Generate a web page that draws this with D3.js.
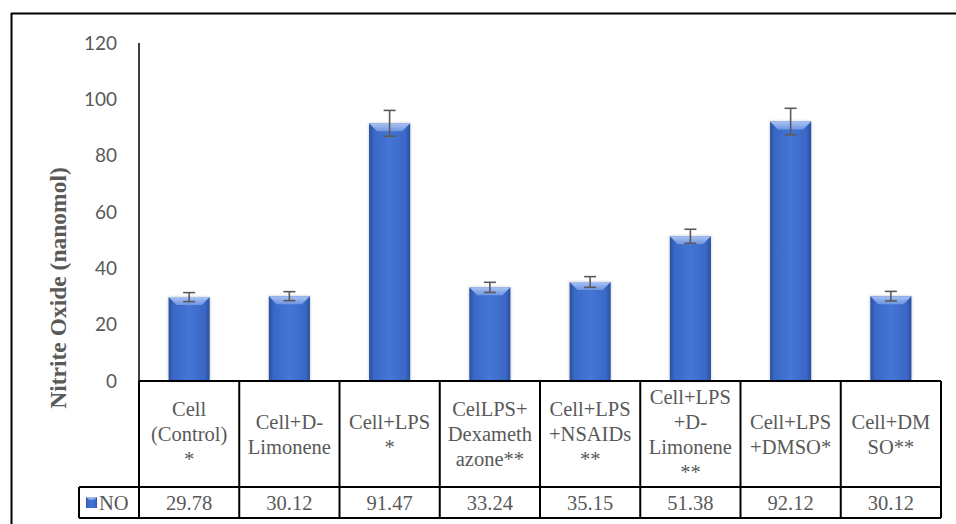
<!DOCTYPE html>
<html><head><meta charset="utf-8">
<script src="https://cdn.jsdelivr.net/npm/d3@7"></script>
<style>html,body{margin:0;padding:0;background:#fff;}svg{display:block;}
.serif{font-family:"Liberation Serif","Times New Roman","DejaVu Serif",serif;}
.sans{font-family:Lato,"Open Sans",sans-serif;}
</style>
</head><body>
<svg id="chart" width="956" height="524"></svg>
<script>
const categories = [
  ["Cell", "(Control)", "*"],
  ["Cell+D-", "Limonene"],
  ["Cell+LPS", "*"],
  ["CelLPS+", "Dexameth", "azone**"],
  ["Cell+LPS", "+NSAIDs", "**"],
  ["Cell+LPS", "+D-", "Limonene", "**"],
  ["Cell+LPS", "+DMSO*"],
  ["Cell+DM", "SO**"]
];
const seriesName = "NO";
const values = [29.78, 30.12, 91.47, 33.24, 35.15, 51.38, 92.12, 30.12];
const valueLabels = ["29.78", "30.12", "91.47", "33.24", "35.15", "51.38", "92.12", "30.12"];
const errors = [1.6, 1.6, 4.6, 1.8, 1.9, 2.5, 4.7, 1.7];
const yTicks = [0, 20, 40, 60, 80, 100, 120];
const yTitle = "Nitrite Oxide (nanomol)";

(function () {
const svg = d3.select("#chart");
const left = 139, right = 941, plotTop = 43, base = 381;
const catRowBottom = 487, valRowBottom = 518, legendLeft = 79;

const ids = categories.map((c, i) => "c" + i);
const x = d3.scaleBand().domain(ids).range([left, right]).paddingInner(0.59).paddingOuter(0.295);
const y = d3.scaleLinear().domain([0, 120]).range([base, plotTop]);

const defs = svg.append("defs");
const g1 = defs.append("linearGradient").attr("id", "barGrad").attr("x1", 0).attr("x2", 1).attr("y1", 0).attr("y2", 0);
[[0, "#2a4f9e"], [0.12, "#3a68c6"], [0.5, "#4475d6"], [0.88, "#3a68c6"], [1, "#2a4f9e"]]
  .forEach(s => g1.append("stop").attr("offset", s[0]).attr("stop-color", s[1]));
const g2 = defs.append("linearGradient").attr("id", "bevelGrad").attr("x1", 0).attr("x2", 0).attr("y1", 0).attr("y2", 1);
[[0, "#a9c2f3"], [1, "#6e95e2"]].forEach(s => g2.append("stop").attr("offset", s[0]).attr("stop-color", s[1]));
const flt = defs.append("filter").attr("id", "shadow").attr("x", "-20%").attr("y", "-20%").attr("width", "140%").attr("height", "140%");
flt.append("feDropShadow").attr("dx", 0).attr("dy", 0).attr("stdDeviation", 1.5).attr("flood-color", "#000").attr("flood-opacity", 0.25);

// outer frame (top and left)
svg.append("line").attr("x1", 11).attr("x2", 956).attr("y1", 13.5).attr("y2", 13.5).attr("stroke", "#000").attr("stroke-width", 2);
svg.append("line").attr("x1", 11.5).attr("x2", 11.5).attr("y1", 13).attr("y2", 524).attr("stroke", "#000").attr("stroke-width", 2);

// y axis
const yAxis = d3.axisLeft(y).tickValues(yTicks).tickSize(0).tickPadding(22);
const ya = svg.append("g").attr("transform", `translate(${left},0)`).call(yAxis);
ya.select(".domain").remove();
ya.selectAll("text").attr("class", "sans").attr("font-family", null).style("font-size", "19px").attr("fill", "#595959");
svg.append("line").attr("x1", left).attr("x2", left).attr("y1", plotTop).attr("y2", catRowBottom).attr("stroke", "#000").attr("stroke-width", 1.5);

// y title
svg.append("text").attr("class", "serif").attr("transform", `translate(66,288) rotate(-90)`).attr("text-anchor", "middle")
  .style("font-weight", "bold").style("font-size", "23.5px").attr("fill", "#595959").text(yTitle);

// bars
const bars = svg.append("g").selectAll("g").data(values).join("g");
const bw = x.bandwidth(), bev = 8;
bars.append("rect").attr("x", (d, i) => x(ids[i])).attr("y", d => y(d)).attr("width", bw).attr("height", d => base - y(d))
  .attr("fill", "url(#barGrad)").attr("filter", "url(#shadow)");
bars.append("polygon").attr("points", (d, i) => {
  const x0 = x(ids[i]), y0 = y(d);
  return [[x0, y0], [x0 + bw, y0], [x0 + bw - bev, y0 + bev], [x0 + bev, y0 + bev]].map(p => p.join(",")).join(" ");
}).attr("fill", "url(#bevelGrad)");

// error bars
const eg = svg.append("g").attr("stroke", "#595959").attr("stroke-width", 1.6);
values.forEach((v, i) => {
  const cx = x(ids[i]) + bw / 2, e = errors[i];
  eg.append("line").attr("x1", cx).attr("x2", cx).attr("y1", y(v + e)).attr("y2", y(v - e));
  eg.append("line").attr("x1", cx - 6).attr("x2", cx + 6).attr("y1", y(v + e)).attr("y2", y(v + e));
  eg.append("line").attr("x1", cx - 6).attr("x2", cx + 6).attr("y1", y(v - e)).attr("y2", y(v - e));
});

// data table
const step = x.step();
const tb = svg.append("g").attr("stroke", "#000").attr("stroke-width", 2);
tb.append("line").attr("x1", left).attr("x2", right).attr("y1", base).attr("y2", base);
tb.append("line").attr("x1", legendLeft).attr("x2", right).attr("y1", catRowBottom).attr("y2", catRowBottom);
tb.append("line").attr("x1", legendLeft).attr("x2", right).attr("y1", valRowBottom).attr("y2", valRowBottom);
tb.append("line").attr("x1", legendLeft).attr("x2", legendLeft).attr("y1", catRowBottom).attr("y2", valRowBottom);
tb.append("line").attr("x1", left).attr("x2", left).attr("y1", base).attr("y2", valRowBottom);
ids.forEach((id, i) => {
  const xr = x(id) + bw / 2 + step / 2;
  tb.append("line").attr("x1", xr).attr("x2", xr).attr("y1", base).attr("y2", valRowBottom);
});

const lh = 25, catCenter = (base + catRowBottom) / 2;
categories.forEach((lines, i) => {
  const cx = x(ids[i]) + bw / 2;
  const t = svg.append("text").attr("class", "serif").attr("text-anchor", "middle").style("font-size", "20.5px").attr("fill", "#595959");
  lines.forEach((ln, k) => {
    t.append("tspan").attr("x", cx).attr("y", catCenter + 7 + (k - (lines.length - 1) / 2) * lh).text(ln);
  });
});
valueLabels.forEach((v, i) => {
  const cx = x(ids[i]) + bw / 2;
  svg.append("text").attr("class", "serif").attr("x", cx).attr("y", (catRowBottom + valRowBottom) / 2 + 7).attr("text-anchor", "middle")
    .style("font-size", "20.5px").attr("fill", "#595959").text(v);
});
// legend key
svg.append("rect").attr("x", 86).attr("y", 497).attr("width", 11).attr("height", 11).attr("fill", "url(#barGrad)");
svg.append("polygon").attr("points", "86,497 97,497 94,500 89,500").attr("fill", "url(#bevelGrad)");
svg.append("text").attr("class", "serif").attr("x", 99).attr("y", (catRowBottom + valRowBottom) / 2 + 7)
  .style("font-size", "20.5px").attr("fill", "#595959").text(seriesName);
})();
</script>
</body></html>
